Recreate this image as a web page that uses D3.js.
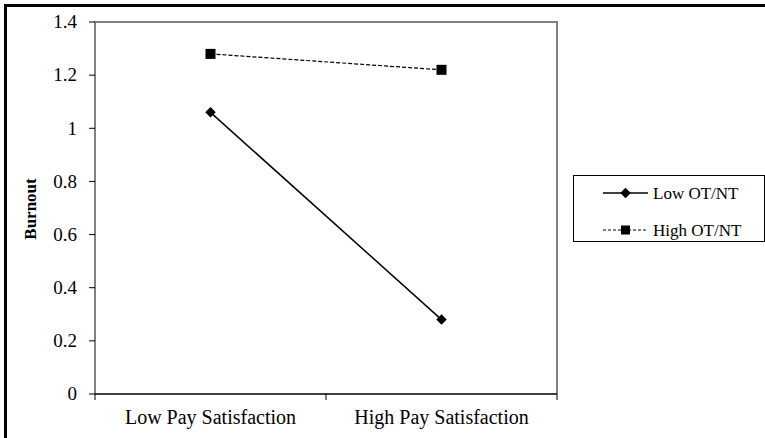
<!DOCTYPE html>
<html>
<head>
<meta charset="utf-8">
<script src="https://cdn.jsdelivr.net/npm/d3@7"></script>
<style>
    body { margin: 0; background: #fff; }
</style>
</head>
<body>
<div id="chart"></div>
<script>
// chart data
const categories = ["Low Pay Satisfaction", "High Pay Satisfaction"];
const lowOT = [1.06, 0.28];
const highOT = [1.28, 1.22];
const yTicks = [0, 0.2, 0.4, 0.6, 0.8, 1, 1.2, 1.4];
const seriesNames = ["Low OT/NT", "High OT/NT"];

const W = 765, H = 438;
const margin = { top: 22, right: 208, bottom: 44, left: 95 };
const width = W - margin.left - margin.right;
const height = H - margin.top - margin.bottom;
const serif = "'Liberation Serif', 'DejaVu Serif', serif";

const svg = d3.select("#chart").append("svg")
    .attr("width", W)
    .attr("height", H)
    .style("font-family", serif);

// outer frame (runs off the right and bottom edges)
svg.append("rect")
    .attr("x", 5.5).attr("y", 5.5)
    .attr("width", W + 20).attr("height", H + 20)
    .attr("fill", "none")
    .attr("stroke", "#000")
    .attr("stroke-width", 3);

const g = svg.append("g")
    .attr("transform", `translate(${margin.left},${margin.top})`);

const x = d3.scaleBand().domain(categories).range([0, width]);
const y = d3.scaleLinear().domain([0, 1.4]).range([height, 0]);

// plot frame: top, left, right in gray
g.append("path")
    .attr("d", `M0,${height}V0H${width}V${height}`)
    .attr("fill", "none")
    .attr("stroke", "#808080")
    .attr("stroke-width", 2);

// y axis ticks and labels
g.selectAll(".ytick")
    .data(yTicks)
    .enter().append("line")
    .attr("x1", -6).attr("x2", 0)
    .attr("y1", d => y(d)).attr("y2", d => y(d))
    .attr("stroke", "#000");

g.selectAll(".ylabel")
    .data(yTicks)
    .enter().append("text")
    .attr("x", -18)
    .attr("y", d => y(d))
    .attr("dy", "0.33em")
    .attr("text-anchor", "end")
    .style("font-size", "19px")
    .text(d => d);

// x axis
g.append("line")
    .attr("x1", 0).attr("x2", width)
    .attr("y1", height).attr("y2", height)
    .attr("stroke", "#000").attr("stroke-width", 1.5);

const xEdges = [0, x.bandwidth(), width];
g.selectAll(".xtick")
    .data(xEdges)
    .enter().append("line")
    .attr("x1", d => d).attr("x2", d => d)
    .attr("y1", height).attr("y2", height + 6)
    .attr("stroke", "#000");

g.selectAll(".xlabel")
    .data(categories)
    .enter().append("text")
    .attr("x", d => x(d) + x.bandwidth() / 2)
    .attr("y", height + 30)
    .attr("text-anchor", "middle")
    .style("font-size", "20px")
    .text(d => d);

// y axis title
svg.append("text")
    .attr("transform", `translate(36, 209) rotate(-90)`)
    .attr("text-anchor", "middle")
    .style("font-size", "17px")
    .style("font-weight", "bold")
    .text("Burnout");

const cx = d => x(d) + x.bandwidth() / 2;
const line = d3.line().x(d => cx(d[0])).y(d => y(d[1]));

// High OT/NT dashed
const highPts = categories.map((c, i) => [c, highOT[i]]);
g.append("path")
    .datum(highPts)
    .attr("d", line)
    .attr("fill", "none")
    .attr("stroke", "#000")
    .attr("stroke-width", 1.2)
    .attr("stroke-dasharray", "4,2");

g.selectAll(".sq")
    .data(highPts)
    .enter().append("rect")
    .attr("x", d => cx(d[0]) - 5)
    .attr("y", d => y(d[1]) - 5)
    .attr("width", 10).attr("height", 10)
    .attr("fill", "#000");

// Low OT/NT solid
const lowPts = categories.map((c, i) => [c, lowOT[i]]);
g.append("path")
    .datum(lowPts)
    .attr("d", line)
    .attr("fill", "none")
    .attr("stroke", "#000")
    .attr("stroke-width", 1.5);

const diamond = d3.symbol().type(d3.symbolDiamond2).size(70);
g.selectAll(".dm")
    .data(lowPts)
    .enter().append("path")
    .attr("d", diamond)
    .attr("transform", d => `translate(${cx(d[0])},${y(d[1])})`)
    .attr("fill", "#000");

// legend
const legend = svg.append("g").attr("transform", "translate(573,175)");
legend.append("rect")
    .attr("x", 0.5).attr("y", 0.5)
    .attr("width", 191).attr("height", 66)
    .attr("fill", "#fff")
    .attr("stroke", "#000");

const legRows = [18, 55];
legend.append("line")
    .attr("x1", 30).attr("x2", 75)
    .attr("y1", legRows[0]).attr("y2", legRows[0])
    .attr("stroke", "#000").attr("stroke-width", 1.5);
legend.append("path")
    .attr("d", diamond)
    .attr("transform", `translate(52.5,${legRows[0]})`)
    .attr("fill", "#000");

legend.append("line")
    .attr("x1", 30).attr("x2", 75)
    .attr("y1", legRows[1]).attr("y2", legRows[1])
    .attr("stroke", "#000")
    .attr("stroke-dasharray", "3,2");
legend.append("rect")
    .attr("x", 48).attr("y", legRows[1] - 4.5)
    .attr("width", 9).attr("height", 9)
    .attr("fill", "#000");

legend.selectAll(".lt")
    .data(seriesNames)
    .enter().append("text")
    .attr("x", 80)
    .attr("y", (d, i) => legRows[i])
    .attr("dy", "0.33em")
    .style("font-size", "17px")
    .text(d => d);
</script>
</body>
</html>
